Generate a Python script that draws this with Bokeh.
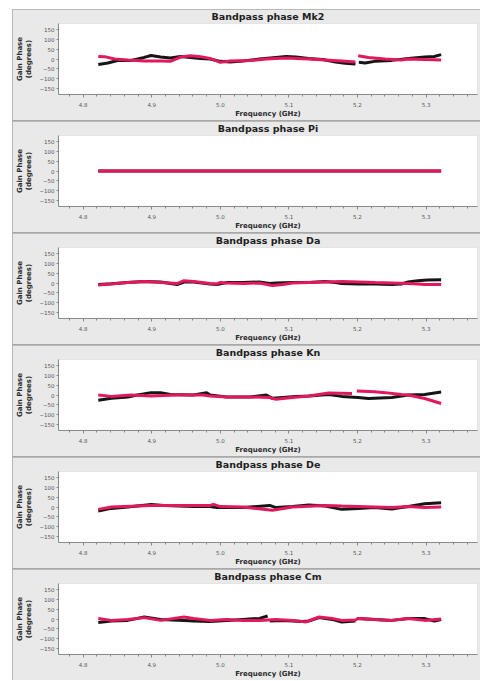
from bokeh.plotting import figure
from bokeh.layouts import column
from bokeh.models import Range1d, FixedTicker, SingleIntervalTicker, NumeralTickFormatter
from bokeh.embed import file_html
from bokeh.resources import INLINE

NAN = float("nan")

antennas = ["Mk2", "Pi", "Da", "Kn", "De", "Cm"]
y_ticks = [-150, -100, -50, 0, 50, 100, 150]

# Mk2
mk2_black_f = [4.822, 4.836, 4.850, 4.870, 4.889, 4.899, 4.913, 4.927, 4.942, 4.956, 4.971, 4.985, 5.000, 5.014, 5.033, 5.057, 5.081, 5.096, 5.110, 5.129, 5.149, 5.168, 5.182, 5.197, 5.199, 5.202, 5.211, 5.225, 5.250, 5.274, 5.298, 5.312, 5.322]
mk2_black_p = [-28, -20, -8, -7, 8, 18, 10, 5, 13, 8, 3, 0, -12, -15, -10, 0, 8, 13, 10, 2, -3, -15, -22, -25, NAN, -17, -20, -12, -7, 3, 10, 13, 22]
mk2_pink_f = [4.822, 4.831, 4.846, 4.865, 4.889, 4.913, 4.927, 4.942, 4.956, 4.971, 4.985, 5.000, 5.014, 5.043, 5.067, 5.081, 5.096, 5.129, 5.153, 5.177, 5.197, 5.199, 5.201, 5.216, 5.240, 5.264, 5.274, 5.298, 5.322]
mk2_pink_p = [13, 12, 0, -5, -10, -10, -12, 10, 17, 12, 3, -17, -10, -8, 0, 3, 5, 0, -5, -10, -15, NAN, 17, 8, 0, -5, 0, -3, -5]

# Pi (reference antenna)
pi_black_f = [4.822, 5.072, 5.322]
pi_black_p = [0, 0, 0]
pi_pink_f = [4.822, 5.072, 5.322]
pi_pink_p = [0, 0, 0]

# Da
da_black_f = [4.822, 4.841, 4.865, 4.889, 4.913, 4.937, 4.947, 4.961, 4.985, 4.995, 5.009, 5.033, 5.057, 5.072, 5.081, 5.105, 5.129, 5.153, 5.168, 5.177, 5.201, 5.225, 5.250, 5.264, 5.274, 5.288, 5.302, 5.322]
da_black_p = [-8, -4, 3, 8, 5, -8, 5, 5, -5, -8, 2, 3, 5, -3, 0, 3, 3, 8, 3, -3, -5, -5, -8, -5, 5, 12, 15, 17]
da_pink_f = [4.822, 4.841, 4.865, 4.889, 4.913, 4.937, 4.947, 4.961, 4.985, 4.995, 5.000, 5.009, 5.033, 5.057, 5.076, 5.091, 5.105, 5.129, 5.153, 5.177, 5.201, 5.225, 5.250, 5.274, 5.288, 5.298, 5.322]
da_pink_p = [-10, -5, 3, 7, 3, -3, 12, 8, -2, -5, 3, 0, -2, 0, -13, -8, 0, 3, 5, 7, 5, 2, 0, -3, -5, -8, -8]

# Kn
kn_black_f = [4.822, 4.841, 4.865, 4.879, 4.899, 4.913, 4.927, 4.961, 4.980, 4.985, 5.009, 5.043, 5.067, 5.076, 5.091, 5.110, 5.129, 5.158, 5.177, 5.201, 5.216, 5.250, 5.274, 5.298, 5.322]
kn_black_p = [-27, -17, -10, 0, 12, 12, 3, 0, 12, 0, -10, -10, 0, -17, -13, -8, -5, 3, -7, -13, -18, -13, 0, 3, 15]
kn_pink_f = [4.822, 4.841, 4.870, 4.899, 4.937, 4.975, 4.985, 5.009, 5.043, 5.072, 5.081, 5.105, 5.129, 5.158, 5.192, 5.196, 5.199, 5.225, 5.240, 5.264, 5.274, 5.298, 5.322]
kn_pink_p = [0, -7, 0, -5, 0, 0, -5, -10, -10, -13, -22, -13, -5, 10, 7, NAN, 20, 16, 12, 3, 0, -18, -43]

# De
de_black_f = [4.822, 4.841, 4.865, 4.899, 4.918, 4.961, 4.985, 4.995, 5.033, 5.072, 5.081, 5.105, 5.129, 5.153, 5.177, 5.201, 5.225, 5.250, 5.274, 5.298, 5.322]
de_black_p = [-20, -7, 0, 13, 8, 3, 3, -3, -3, 8, -3, 3, 10, 5, -12, -7, -3, -10, 3, 17, 22]
de_pink_f = [4.822, 4.841, 4.899, 4.985, 4.990, 5.000, 5.033, 5.076, 5.105, 5.153, 5.177, 5.225, 5.250, 5.274, 5.298, 5.322]
de_pink_p = [-12, 0, 8, 8, 13, 2, 0, -17, 0, 8, 5, 0, -3, 3, -3, 0]

# Cm
cm_black_f = [4.822, 4.841, 4.865, 4.889, 4.913, 4.947, 4.961, 4.985, 5.009, 5.033, 5.057, 5.069, 5.070, 5.072, 5.091, 5.120, 5.129, 5.144, 5.163, 5.177, 5.197, 5.199, 5.201, 5.225, 5.250, 5.274, 5.298, 5.312, 5.322]
cm_black_p = [-18, -10, -7, 10, -2, -7, -10, -13, -7, -2, 3, 15, NAN, -10, -7, -13, -10, 7, -2, -15, -10, NAN, 3, -2, -7, 2, 2, -10, -3]
cm_pink_f = [4.822, 4.841, 4.865, 4.889, 4.913, 4.947, 4.961, 4.985, 5.009, 5.033, 5.057, 5.081, 5.105, 5.125, 5.144, 5.163, 5.177, 5.197, 5.201, 5.225, 5.250, 5.274, 5.298, 5.322]
cm_pink_p = [3, -7, -2, 7, -7, 10, 3, -7, -2, -7, -7, -2, -7, -15, 10, 3, -7, -5, 3, -2, -7, 3, -7, 0]

series = {
    "Mk2": (mk2_black_f, mk2_black_p, mk2_pink_f, mk2_pink_p),
    "Pi": (pi_black_f, pi_black_p, pi_pink_f, pi_pink_p),
    "Da": (da_black_f, da_black_p, da_pink_f, da_pink_p),
    "Kn": (kn_black_f, kn_black_p, kn_pink_f, kn_pink_p),
    "De": (de_black_f, de_black_p, de_pink_f, de_pink_p),
    "Cm": (cm_black_f, cm_black_p, cm_pink_f, cm_pink_p),
}

BLACK = "#151515"
PINK = "#e2185e"
BG = "#e9e9e9"

figs = []
for ant in antennas:
    bf, bp, pf, pp = series[ant]
    p = figure(width=468, height=111, output_backend="svg", toolbar_location=None,
               x_range=Range1d(4.764, 5.375), y_range=Range1d(-180, 180),
               title="Bandpass phase " + ant,
               min_border_left=40, min_border_right=3, min_border_top=0, min_border_bottom=0)
    p.border_fill_color = BG
    p.background_fill_color = "white"
    p.outline_line_color = None
    p.grid.grid_line_color = None
    p.title.align = "center"
    p.title.vertical_align = "middle"
    p.title.text_font = "DejaVu Sans"
    p.title.text_font_style = "bold"
    p.title.text_font_size = "9.5px"
    p.title.text_line_height = 1.0
    p.title.text_color = "#1e1e1e"
    p.title.standoff = 1
    p.title.offset = 0

    p.line(bf, bp, line_color=BLACK, line_width=3)
    p.line(pf, pp, line_color=PINK, line_width=3)

    xa = p.xaxis[0]
    xa.ticker = SingleIntervalTicker(interval=0.1, num_minor_ticks=5)
    xa.formatter = NumeralTickFormatter(format="0.0")
    xa.axis_label = "Frequency (GHz)"
    xa.axis_label_text_font = "DejaVu Sans"
    xa.axis_label_text_font_style = "bold"
    xa.axis_label_text_font_size = "7px"
    xa.axis_label_text_line_height = 1.0
    xa.axis_label_text_color = "#2a2a2a"
    xa.axis_label_standoff = 0
    xa.major_label_text_font = "DejaVu Sans"
    xa.major_label_text_font_size = "5.5px"
    xa.major_label_text_line_height = 1.0
    xa.major_label_text_color = "#555555"
    xa.major_label_standoff = 4
    xa.axis_line_color = "#888888"
    xa.major_tick_line_color = "#888888"
    xa.minor_tick_line_color = "#888888"
    xa.major_tick_out = 3
    xa.major_tick_in = 0
    xa.minor_tick_out = 2
    xa.minor_tick_in = 0

    ya = p.yaxis[0]
    ya.ticker = FixedTicker(ticks=y_ticks)
    ya.axis_label = "Gain Phase\n(degrees)"
    ya.axis_label_text_font = "DejaVu Sans"
    ya.axis_label_text_font_style = "bold"
    ya.axis_label_text_font_size = "7px"
    ya.axis_label_text_color = "#2a2a2a"
    ya.axis_label_standoff = 3
    ya.major_label_text_font = "DejaVu Sans"
    ya.major_label_text_font_size = "5.5px"
    ya.major_label_text_color = "#555555"
    ya.major_label_standoff = 2
    ya.axis_line_color = "#888888"
    ya.major_tick_line_color = "#888888"
    ya.minor_tick_line_color = None
    ya.major_tick_out = 2
    ya.major_tick_in = 0
    figs.append(p)

layout = column(*figs, spacing=1, margin=(9, 0, 0, 12),
                styles={"background-color": "#a8a8a8"})

open("out.html", "w").write(file_html(layout, INLINE))
